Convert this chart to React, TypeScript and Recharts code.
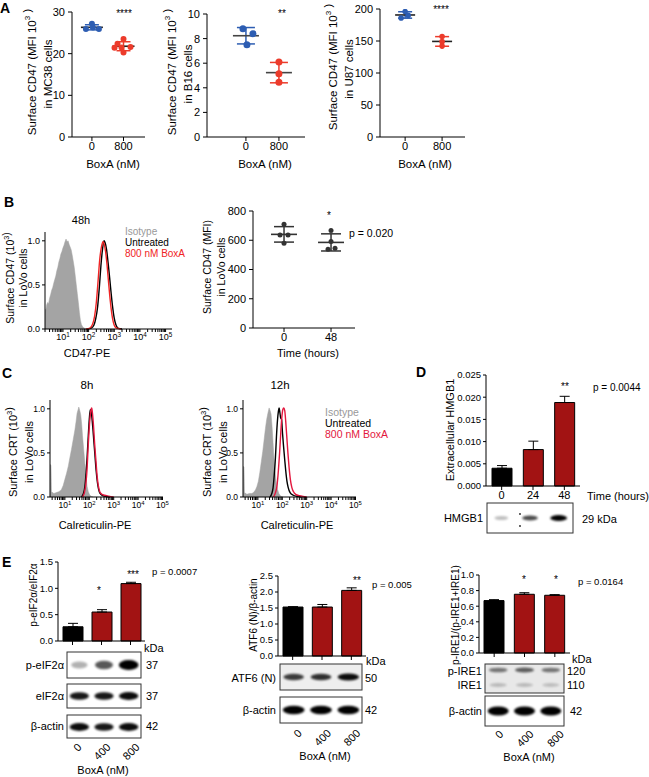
import React from "react";
import {
  ComposedChart,
  BarChart,
  Bar,
  Cell,
  Scatter,
  Area,
  Line,
  ErrorBar,
  XAxis,
  YAxis,
} from "recharts";

const FONT = "'Liberation Sans', Arial, Helvetica, sans-serif";
const BLUE = "#2d5db2";
const RED = "#ec3b2b";
const CRIMSON = "#e3173e";
const BAR_RED = "#a21313";
const GREY = "#a4a4a4";

// A - surface CD47 (MFI 10^3)
const doses = ["0", "800"];
const mc38Ctrl = [27.2, 25.9, 26.3, 25.9];
const mc38BoxA = [23.5, 22.4, 21.4, 21.6, 21.5, 20.3];
const b16Ctrl = [8.8, 8.4, 7.5];
const b16BoxA = [6.1, 5.15, 4.45];
const u87Ctrl = [196, 190, 186];
const u87BoxA = [157, 149, 142];
const mc38Ticks = [0, 10, 20, 30];
const b16Ticks = [0, 2, 4, 6, 8, 10];
const u87Ticks = [0, 50, 100, 150, 200];

// B - LoVo CD47
const hours = ["0", "48"];
const lovoCtrl = [709, 636, 636, 580];
const lovoBoxA = [666, 591, 539, 545];
const lovoTicks = [0, 200, 400, 600, 800];

// histograms: [log10 intensity, normalised count]
const cd47Iso = [
  [0.3, 0.23], [0.33, 0.21], [0.36, 0.27], [0.4, 0.3], [0.44, 0.29], [0.48, 0.35],
  [0.52, 0.39], [0.56, 0.44], [0.6, 0.47], [0.64, 0.52], [0.68, 0.56], [0.72, 0.6],
  [0.76, 0.66], [0.8, 0.7], [0.84, 0.76], [0.88, 0.8], [0.92, 0.85], [0.96, 0.88],
  [1.0, 0.92], [1.04, 0.95], [1.08, 0.99], [1.12, 1.02], [1.16, 0.99], [1.2, 1.0],
  [1.24, 0.96], [1.28, 0.93], [1.32, 0.9], [1.36, 0.84], [1.4, 0.77], [1.44, 0.7],
  [1.48, 0.6], [1.52, 0.5], [1.56, 0.4], [1.6, 0.3], [1.64, 0.19], [1.68, 0.1],
  [1.72, 0.05], [1.78, 0.02], [1.86, 0.005], [1.95, 0],
];
const cd47Untr = [
  [1.95, 0], [2.1, 0.01], [2.2, 0.04], [2.28, 0.12], [2.35, 0.25], [2.42, 0.48],
  [2.48, 0.72], [2.54, 0.9], [2.6, 1.0], [2.64, 0.98], [2.7, 0.9], [2.76, 0.75],
  [2.82, 0.58], [2.88, 0.4], [2.94, 0.24], [3.0, 0.12], [3.06, 0.05], [3.14, 0.01], [3.3, 0],
];
const cd47BoxA = [
  [1.9, 0], [2.05, 0.01], [2.15, 0.05], [2.23, 0.14], [2.3, 0.3], [2.37, 0.55],
  [2.43, 0.78], [2.5, 0.93], [2.56, 0.99], [2.6, 0.97], [2.66, 0.88], [2.72, 0.72],
  [2.78, 0.52], [2.84, 0.33], [2.9, 0.18], [2.96, 0.08], [3.02, 0.03], [3.1, 0.01], [3.25, 0],
];

// C - calreticulin
const crt8Iso = [
  [0.39, 0.37], [0.43, 0.36], [0.45, 0.06], [0.55, 0.04], [0.65, 0.05], [0.75, 0.06],
  [0.85, 0.08], [0.93, 0.13], [1.0, 0.2], [1.07, 0.27], [1.14, 0.35], [1.2, 0.44],
  [1.27, 0.54], [1.34, 0.65], [1.41, 0.76], [1.46, 0.86], [1.5, 0.95], [1.54, 0.99],
  [1.57, 1.02], [1.61, 0.98], [1.65, 0.93], [1.69, 0.82], [1.72, 0.7], [1.77, 0.54],
  [1.82, 0.38], [1.87, 0.22], [1.91, 0.12], [1.96, 0.06], [2.02, 0.02], [2.1, 0.005], [2.16, 0],
];
const crt8Untr = [
  [1.68, 0], [1.76, 0.04], [1.82, 0.12], [1.87, 0.28], [1.91, 0.45], [1.96, 0.7],
  [2.0, 0.88], [2.04, 0.99], [2.07, 0.98], [2.1, 0.92], [2.14, 0.8], [2.19, 0.62],
  [2.23, 0.48], [2.28, 0.3], [2.33, 0.17], [2.38, 0.09], [2.44, 0.04], [2.55, 0.015],
  [2.7, 0.005], [2.85, 0],
];
const crt8BoxA = [
  [1.72, 0], [1.8, 0.05], [1.86, 0.15], [1.91, 0.32], [1.95, 0.55], [1.99, 0.75],
  [2.03, 0.9], [2.07, 0.99], [2.1, 1.01], [2.13, 0.95], [2.17, 0.82], [2.22, 0.6],
  [2.27, 0.42], [2.32, 0.24], [2.37, 0.13], [2.43, 0.06], [2.5, 0.035], [2.62, 0.02],
  [2.8, 0.01], [3.0, 0],
];
const crt12Iso = [
  [0.39, 0.35], [0.43, 0.34], [0.45, 0.05], [0.55, 0.03], [0.65, 0.04], [0.75, 0.04],
  [0.82, 0.05], [0.9, 0.08], [0.96, 0.12], [1.02, 0.18], [1.08, 0.28], [1.14, 0.4],
  [1.2, 0.52], [1.26, 0.66], [1.31, 0.78], [1.36, 0.88], [1.41, 0.95], [1.46, 1.01],
  [1.5, 0.98], [1.54, 0.94], [1.58, 0.8], [1.62, 0.62], [1.66, 0.44], [1.7, 0.3],
  [1.75, 0.17], [1.8, 0.09], [1.86, 0.04], [1.93, 0.01], [2.03, 0],
];
const crt12Untr = [
  [1.5, 0], [1.57, 0.04], [1.62, 0.1], [1.67, 0.25], [1.72, 0.45], [1.76, 0.68],
  [1.8, 0.86], [1.84, 0.97], [1.87, 1.01], [1.9, 0.96], [1.93, 0.9], [1.97, 0.88],
  [2.01, 0.72], [2.05, 0.58], [2.1, 0.42], [2.14, 0.3], [2.19, 0.18], [2.24, 0.11],
  [2.32, 0.05], [2.45, 0.02], [2.6, 0.008], [2.78, 0],
];
const crt12BoxA = [
  [1.64, 0], [1.72, 0.05], [1.78, 0.12], [1.84, 0.3], [1.89, 0.5], [1.94, 0.74],
  [1.98, 0.9], [2.02, 0.99], [2.06, 1.01], [2.1, 0.98], [2.14, 0.86], [2.18, 0.7],
  [2.23, 0.5], [2.28, 0.33], [2.33, 0.2], [2.39, 0.11], [2.46, 0.06], [2.55, 0.03],
  [2.7, 0.015], [2.85, 0.006], [3.0, 0],
];
const histTicks = [0, 0.5, 1];

// D - extracellular HMGB1
const hmgbTimes = ["0", "24", "48"];
const hmgbMean = [0.004, 0.0082, 0.0188];
const hmgbErr = [0.0006, 0.0019, 0.0014];
const hmgbTicks = [0, 0.005, 0.01, 0.015, 0.02, 0.025];
const hmgbBands = [0.25, 0.7, 1];

// E - UPR markers
const eDoses = ["0", "400", "800"];
const peifMean = [0.27, 0.55, 1.09];
const peifErr = [0.065, 0.045, 0.025];
const peifTicks = [0, 0.5, 1, 1.5];
const atf6Mean = [1.53, 1.53, 2.05];
const atf6Err = [0.01, 0.08, 0.08];
const atf6Ticks = [0, 0.5, 1, 1.5, 2, 2.5];
const ireMean = [0.672, 0.753, 0.74];
const ireErr = [0.012, 0.02, 0.008];
const ireTicks = [0, 0.2, 0.4, 0.6, 0.8, 1];

const peifBands = [0.3, 0.65, 1];
const eifBands = [0.9, 0.9, 0.95];
const actin1Bands = [0.95, 0.9, 0.95];
const atf6Bands = [0.75, 0.8, 0.95];
const actin2Bands = [1, 1, 1];
const pireBands = [0.5, 0.6, 0.5];
const ireBands = [0.2, 0.2, 0.18];
const actin3Bands = [1, 1, 1];

const mean = (a: number[]) => a.reduce((s, v) => s + v, 0) / a.length;
const sd = (a: number[]) => {
  const m = mean(a);
  return Math.sqrt(a.reduce((s, v) => s + (v - m) ** 2, 0) / (a.length - 1));
};
const pts = (a: number[][]) => a.map(([lx, c]) => ({ lx, c }));

type Group = { vals: number[]; color: string; jitter: number[] };

const DotPlot = ({ box, xDom, yTop, yTicks, labels, groups, meanColor, meanHalf, cap, r, fs }: any) => {
  const yw = 46, xh = 22, padT = 7, padR = 6;
  const w = box[2] - box[0] + yw + padR;
  const h = box[3] - box[1] + padT + xh;
  const tick = { fontSize: fs, fill: "#000" };
  return (
    <div style={{ position: "absolute", left: box[0] - yw, top: box[1] - padT }}>
      <ComposedChart width={w} height={h} margin={{ top: padT, right: padR, bottom: 0, left: 0 }}>
        <XAxis
          type="number"
          dataKey="x"
          domain={xDom}
          allowDataOverflow
          ticks={labels.map((_: string, i: number) => i)}
          tickFormatter={(v) => labels[v]}
          interval={0}
          height={xh}
          stroke="#000"
          tick={tick}
          tickSize={4}
          tickMargin={1}
        />
        <YAxis
          type="number"
          dataKey="y"
          domain={[0, yTop]}
          allowDataOverflow
          ticks={yTicks}
          interval={0}
          width={yw}
          stroke="#000"
          tick={tick}
          tickSize={4}
          tickMargin={3}
        />
        {groups.map((g: Group, gi: number) => (
          <Scatter
            key={`m${gi}`}
            data={[{ x: gi, y: mean(g.vals), sd: sd(g.vals) }]}
            isAnimationActive={false}
            shape={(p: any) => (
              <line x1={p.cx - meanHalf} x2={p.cx + meanHalf} y1={p.cy} y2={p.cy} stroke={meanColor} strokeWidth={1.6} />
            )}
          >
            <ErrorBar dataKey="sd" direction="y" width={cap} stroke={g.color} strokeWidth={1.5} />
          </Scatter>
        ))}
        {groups.map((g: Group, gi: number) => (
          <Scatter
            key={`p${gi}`}
            data={g.vals.map((v, k) => ({ x: gi, y: v, k }))}
            isAnimationActive={false}
            shape={(p: any) => <circle cx={p.cx + g.jitter[p.payload.k]} cy={p.cy} r={r} fill={g.color} />}
          />
        ))}
      </ComposedChart>
    </div>
  );
};

const LogTick = (p: any) => {
  const v = p.payload.value;
  if (Math.abs(v - Math.round(v)) > 1e-6) return <g />;
  return (
    <text x={p.x} y={p.y} dy={p.fs * 0.72} textAnchor="middle" fontSize={p.fs} fill="#000">
      10
      <tspan fontSize={p.fs * 0.7} dy={-p.fs * 0.4}>
        {Math.round(v)}
      </tspan>
    </text>
  );
};

const Histo = ({ box, dom, iso, untr, treat, red, fs }: any) => {
  const yw = 30, xh = 20, padT = 4, padR = 12;
  const w = box[2] - box[0] + yw + padR;
  const h = box[3] - box[1] + padT + xh;
  const logTicks: number[] = [];
  for (let d = 0; d < 6; d++)
    for (let k = 1; k < 10; k++) {
      const t = d + Math.log10(k);
      if (t >= dom[0] && t <= dom[1]) logTicks.push(t);
    }
  return (
    <div style={{ position: "absolute", left: box[0] - yw, top: box[1] - padT }}>
      <ComposedChart width={w} height={h} margin={{ top: padT, right: padR, bottom: 0, left: 0 }}>
        <XAxis
          type="number"
          dataKey="lx"
          domain={dom}
          allowDataOverflow
          ticks={logTicks}
          interval={0}
          height={xh}
          stroke="#000"
          tickSize={3}
          tickMargin={2}
          tick={(p: any) => <LogTick {...p} fs={fs} />}
        />
        <YAxis
          type="number"
          domain={[0, 1.1]}
          ticks={histTicks}
          interval={0}
          tickFormatter={(v) => v.toFixed(1)}
          width={yw}
          stroke="#000"
          tick={{ fontSize: fs, fill: "#000" }}
          tickSize={3}
          tickMargin={2}
        />
        <Area data={pts(iso)} dataKey="c" type="linear" fill={GREY} fillOpacity={1} stroke={GREY} strokeWidth={0.5} isAnimationActive={false} />
        <Line data={pts(untr)} dataKey="c" type="monotone" stroke="#000" strokeWidth={1.4} dot={false} isAnimationActive={false} />
        <Line data={pts(treat)} dataKey="c" type="monotone" stroke={red} strokeWidth={1.4} dot={false} isAnimationActive={false} />
      </ComposedChart>
    </div>
  );
};

const BarPanel = ({ box, cats, vals, errs, yTop, yTicks, digits, showCats, fs }: any) => {
  const data = cats.map((c: string, i: number) => ({ c, v: vals[i], e: [0, errs[i]] }));
  const yw = 40, xh = 20, padT = 8, padR = 2;
  const w = box[2] - box[0] + yw + padR;
  const h = box[3] - box[1] + padT + xh;
  return (
    <div style={{ position: "absolute", left: box[0] - yw, top: box[1] - padT }}>
      <BarChart data={data} width={w} height={h} margin={{ top: padT, right: padR, bottom: 0, left: 0 }}>
        <XAxis
          dataKey="c"
          height={xh}
          stroke="#000"
          tickSize={4}
          tickMargin={1}
          interval={0}
          tick={{ fontSize: 11, fill: "#000" }}
          tickFormatter={showCats ? undefined : () => ""}
        />
        <YAxis
          type="number"
          domain={[0, yTop]}
          ticks={yTicks}
          interval={0}
          tickFormatter={(v) => v.toFixed(digits)}
          width={yw}
          stroke="#000"
          tick={{ fontSize: fs, fill: "#000" }}
          tickSize={3}
          tickMargin={2}
        />
        <Bar dataKey="v" barSize={20} stroke="#000" strokeWidth={1} isAnimationActive={false}>
          {data.map((_: any, i: number) => (
            <Cell key={i} fill={i === 0 ? "#000" : BAR_RED} />
          ))}
          <ErrorBar dataKey="e" direction="y" width={5} stroke="#000" strokeWidth={1} />
        </Bar>
      </BarChart>
    </div>
  );
};

const T = ({ x, y, s = 11, a = "middle", c = "#000", r, w, children }: any) => (
  <text
    x={x}
    y={y}
    fontSize={s}
    textAnchor={a}
    fill={c}
    fontWeight={w}
    dominantBaseline="central"
    transform={r ? `rotate(${r} ${x} ${y})` : undefined}
  >
    {children}
  </text>
);

const Sup = ({ v, s }: any) => (
  <>
    <tspan dy={-s * 0.4} fontSize={s * 0.7}>
      {v}
    </tspan>
    <tspan dy={s * 0.4}>{""}</tspan>
  </>
);

type Band = { y: number; ints: number[]; ry: number; rx?: number };

const Blot = ({ b, bands, bg = "#fff" }: { b: number[]; bands: Band[]; bg?: string }) => {
  const lw = (b[2] - b[0]) / 3;
  return (
    <g>
      <rect x={b[0]} y={b[1]} width={b[2] - b[0]} height={b[3] - b[1]} fill={bg} />
      {bands.map((band, j) =>
        band.ints.map((v, i) => (
          <ellipse
            key={`${j}-${i}`}
            cx={b[0] + lw * (i + 0.5)}
            cy={band.y}
            rx={(band.rx ?? lw * 0.38) * (0.8 + 0.25 * v)}
            ry={band.ry * (0.55 + 0.45 * v)}
            fill="#000"
            opacity={Math.min(1, v)}
            filter="url(#blur)"
          />
        ))
      )}
      <rect x={b[0]} y={b[1]} width={b[2] - b[0]} height={b[3] - b[1]} fill="none" stroke="#333" strokeWidth={1} />
    </g>
  );
};

// rotated dose labels under the blots
const DoseLabels = ({ box, y }: any) => {
  const step = (box[2] - box[0]) / eDoses.length;
  return (
    <>
      {eDoses.map((d, i) => {
        const x = box[0] + step * (i + 0.5) + 7;
        return (
          <T key={d} x={x} y={y} a="end" r={-45} s={11}>
            {d}
          </T>
        );
      })}
    </>
  );
};

const A1 = [72, 12, 145, 137];
const A2 = [207, 14, 305, 137];
const A3 = [380, 9, 465, 137];
const BH = [45, 232, 172, 329];
const BS = [253, 211, 355, 328];
const C8 = [50, 400, 163, 497];
const C12 = [243, 400, 356, 497];
const DB = [486, 375, 580, 486];
const E1 = [58, 562, 145, 641];
const E2 = [278, 576, 366, 656];
const E3 = [479, 575, 570, 653];

export default function App() {
  return (
    <div
      style={{
        position: "absolute",
        left: 0,
        top: 0,
        width: 649,
        height: 777,
        background: "#fff",
        fontFamily: FONT,
        overflow: "hidden",
      }}
    >
      <DotPlot
        box={A1}
        xDom={[-0.63, 1.68]}
        yTop={30}
        yTicks={mc38Ticks}
        labels={doses}
        fs={11}
        r={3}
        meanHalf={11}
        cap={7}
        meanColor="#222"
        groups={[
          { vals: mc38Ctrl, color: BLUE, jitter: [0, -6, 1, 7] },
          { vals: mc38BoxA, color: RED, jitter: [0, -6, -9, 7, -2, 0] },
        ]}
      />
      <DotPlot
        box={A2}
        xDom={[-1.18, 1.79]}
        yTop={10}
        yTicks={b16Ticks}
        labels={doses}
        fs={11}
        r={3.5}
        meanHalf={13}
        cap={9}
        meanColor="#444"
        groups={[
          { vals: b16Ctrl, color: BLUE, jitter: [-3, 7, 1] },
          { vals: b16BoxA, color: RED, jitter: [0, 0, 0] },
        ]}
      />
      <DotPlot
        box={A3}
        xDom={[-0.68, 1.62]}
        yTop={200}
        yTicks={u87Ticks}
        labels={doses}
        fs={11}
        r={2.8}
        meanHalf={10}
        cap={7}
        meanColor="#222"
        groups={[
          { vals: u87Ctrl, color: BLUE, jitter: [0, 3, -4] },
          { vals: u87BoxA, color: RED, jitter: [0, 0, 0] },
        ]}
      />
      <Histo box={BH} dom={[0.3, 5.25]} iso={cd47Iso} untr={cd47Untr} treat={cd47BoxA} red="#f02424" fs={9} />
      <DotPlot
        box={BS}
        xDom={[-0.66, 1.51]}
        yTop={800}
        yTicks={lovoTicks}
        labels={hours}
        fs={11}
        r={2.5}
        meanHalf={13}
        cap={10}
        meanColor="#333"
        groups={[
          { vals: lovoCtrl, color: "#333", jitter: [0, -4, 4, 0] },
          { vals: lovoBoxA, color: "#333", jitter: [0, 0, -3, 4] },
        ]}
      />
      <Histo box={C8} dom={[0.39, 5.02]} iso={crt8Iso} untr={crt8Untr} treat={crt8BoxA} red={CRIMSON} fs={8.5} />
      <Histo box={C12} dom={[0.39, 5.02]} iso={crt12Iso} untr={crt12Untr} treat={crt12BoxA} red={CRIMSON} fs={8.5} />
      <BarPanel box={DB} cats={hmgbTimes} vals={hmgbMean} errs={hmgbErr} yTop={0.025} yTicks={hmgbTicks} digits={3} showCats fs={9.5} />
      <BarPanel box={E1} cats={eDoses} vals={peifMean} errs={peifErr} yTop={1.5} yTicks={peifTicks} digits={1} fs={9.5} />
      <BarPanel box={E2} cats={eDoses} vals={atf6Mean} errs={atf6Err} yTop={2.5} yTicks={atf6Ticks} digits={1} fs={9.5} />
      <BarPanel box={E3} cats={eDoses} vals={ireMean} errs={ireErr} yTop={1} yTicks={ireTicks} digits={1} fs={9.5} />

      <svg
        width={649}
        height={777}
        style={{ position: "absolute", left: 0, top: 0, pointerEvents: "none" }}
        fontFamily={FONT}
      >
        <defs>
          <filter id="blur" x="-50%" y="-150%" width="200%" height="400%">
            <feGaussianBlur stdDeviation="1.1" />
          </filter>
        </defs>

        {/* panel letters */}
        <T x={0} y={8} a="start" s={14} w="bold">A</T>
        <T x={4} y={202} a="start" s={14} w="bold">B</T>
        <T x={2} y={373} a="start" s={14} w="bold">C</T>
        <T x={416} y={372} a="start" s={14} w="bold">D</T>
        <T x={2} y={562} a="start" s={14} w="bold">E</T>

        {/* A */}
        <T x={124} y={13} s={10}>****</T>
        <T x={282} y={13} s={10}>**</T>
        <T x={441} y={9} s={10}>****</T>
        <T x={32} y={72} r={-90} s={11.5}>
          Surface CD47 (MFI 10<Sup v="3" s={11.5} /> )
        </T>
        <T x={48} y={74} r={-90} s={11.5}>in MC38 cells</T>
        <T x={172} y={72} r={-90} s={11.5}>
          Surface CD47 (MFI 10<Sup v="3" s={11.5} /> )
        </T>
        <T x={188} y={74} r={-90} s={11.5}>in B16 cells</T>
        <T x={333} y={67} r={-90} s={11.5}>
          Surface CD47 (MFI 10<Sup v="3" s={11.5} /> )
        </T>
        <T x={349} y={69} r={-90} s={11.5}>in U87 cells</T>
        <T x={113} y={164} s={11.5}>BoxA (nM)</T>
        <T x={265} y={164} s={11.5}>BoxA (nM)</T>
        <T x={425} y={164} s={11.5}>BoxA (nM)</T>

        {/* B */}
        <T x={81} y={220} s={11}>48h</T>
        <T x={125} y={231} a="start" s={10} c="#999">Isotype</T>
        <T x={125} y={242} a="start" s={10}>Untreated</T>
        <T x={125} y={253} a="start" s={10} c="#f02424">800 nM BoxA</T>
        <T x={10} y={278} r={-90} s={10.5}>
          Surface CD47 (10<Sup v="3" s={10.5} />)
        </T>
        <T x={23} y={278} r={-90} s={10.5}>in LoVo cells</T>
        <T x={87} y={353} s={11}>CD47-PE</T>
        <T x={329} y={215} s={10}>*</T>
        <T x={349} y={233} a="start" s={10.5}>p = 0.020</T>
        <T x={207} y={267} r={-90} s={10.5}>Surface CD47 (MFI)</T>
        <T x={221} y={267} r={-90} s={10.5}>in LoVo cells</T>
        <T x={308} y={353} s={11}>Time (hours)</T>

        {/* C */}
        <T x={87} y={385} s={11.5}>8h</T>
        <T x={280} y={385} s={11.5}>12h</T>
        <T x={325} y={412} a="start" s={10.5} c="#999">Isotype</T>
        <T x={325} y={423} a="start" s={10.5}>Untreated</T>
        <T x={325} y={434} a="start" s={10.5} c={CRIMSON}>800 nM BoxA</T>
        <T x={13} y={452} r={-90} s={11}>
          Surface CRT (10<Sup v="3" s={11} />)
        </T>
        <T x={29} y={452} r={-90} s={11}>in LoVo cells</T>
        <T x={207} y={452} r={-90} s={11}>
          Surface CRT (10<Sup v="3" s={11} />)
        </T>
        <T x={223} y={452} r={-90} s={11}>in LoVo cells</T>
        <T x={95} y={525} s={11}>Calreticulin-PE</T>
        <T x={297} y={525} s={11}>Calreticulin-PE</T>

        {/* D */}
        <T x={565} y={386} s={10}>**</T>
        <T x={593} y={387} a="start" s={10}>p = 0.0044</T>
        <T x={450} y={430} r={-90} s={11}>Extracellular HMGB1</T>
        <T x={587} y={496} a="start" s={11}>Time (hours)</T>
        <Blot b={[487, 503, 573, 533]} bands={[{ y: 518, ints: hmgbBands, ry: 3, rx: 8 }]} />
        <circle cx={520} cy={514} r={0.9} fill="#222" />
        <circle cx={520} cy={526} r={0.9} fill="#222" />
        <T x={483} y={518} a="end" s={11}>HMGB1</T>
        <T x={582} y={519} a="start" s={11}>29 kDa</T>

        {/* E1 */}
        <T x={99} y={590} s={10}>*</T>
        <T x={133} y={574} s={10}>***</T>
        <T x={152} y={571} a="start" s={9.5}>p = 0.0007</T>
        <T x={33} y={595} r={-90} s={10}>p-eIF2α/eIF2α</T>
        <T x={144} y={648} a="start" s={11}>kDa</T>
        <Blot b={[67, 652, 141, 678]} bands={[{ y: 665, ints: peifBands, ry: 5 }]} />
        <Blot b={[67, 684, 141, 708]} bands={[{ y: 696, ints: eifBands, ry: 4 }]} />
        <Blot b={[67, 715, 141, 738]} bands={[{ y: 727, ints: actin1Bands, ry: 4 }]} />
        <T x={64} y={665} a="end" s={11}>p-eIF2α</T>
        <T x={64} y={696} a="end" s={11}>eIF2α</T>
        <T x={64} y={726} a="end" s={11}>β-actin</T>
        <T x={146} y={665} a="start" s={11}>37</T>
        <T x={146} y={696} a="start" s={11}>37</T>
        <T x={146} y={726} a="start" s={11}>42</T>
        <DoseLabels box={E1} y={745} />
        <T x={103} y={770} s={11}>BoxA (nM)</T>

        {/* E2 */}
        <T x={357} y={580} s={10}>**</T>
        <T x={372} y={584} a="start" s={9.5}>p = 0.005</T>
        <T x={253} y={615} r={-90} s={10}>ATF6 (N)/β-actin</T>
        <T x={366} y={661} a="start" s={11}>kDa</T>
        <Blot b={[280, 664, 362, 690]} bands={[{ y: 677, ints: atf6Bands, ry: 3.6 }]} bg="#eeeeee" />
        <Blot b={[280, 697, 362, 723]} bands={[{ y: 710, ints: actin2Bands, ry: 4.2 }]} />
        <T x={276} y={678} a="end" s={11}>ATF6 (N)</T>
        <T x={276} y={710} a="end" s={11}>β-actin</T>
        <T x={365} y={678} a="start" s={11}>50</T>
        <T x={365} y={710} a="start" s={11}>42</T>
        <DoseLabels box={E2} y={731} />
        <T x={325} y={756} s={11}>BoxA (nM)</T>

        {/* E3 */}
        <T x={524} y={579} s={10}>*</T>
        <T x={556} y={579} s={10}>*</T>
        <T x={578} y={581} a="start" s={9.5}>p = 0.0164</T>
        <T x={455} y={615} r={-90} s={10}>p-IRE1/(p-IRE1+IRE1)</T>
        <T x={572} y={659} a="start" s={11}>kDa</T>
        <Blot
          b={[485, 664, 564, 693]}
          bands={[
            { y: 670, ints: pireBands, ry: 3 },
            { y: 685, ints: ireBands, ry: 3 },
          ]}
          bg="#e8e8e8"
        />
        <Blot b={[485, 696, 564, 726]} bands={[{ y: 711, ints: actin3Bands, ry: 4.5 }]} />
        <T x={482} y={671} a="end" s={11}>p-IRE1</T>
        <T x={482} y={685} a="end" s={11}>IRE1</T>
        <T x={482} y={711} a="end" s={11}>β-actin</T>
        <T x={567} y={671} a="start" s={11}>120</T>
        <T x={567} y={685} a="start" s={11}>110</T>
        <T x={570} y={711} a="start" s={11}>42</T>
        <DoseLabels box={E3} y={732} />
        <T x={529} y={757} s={11}>BoxA (nM)</T>
      </svg>
    </div>
  );
}
